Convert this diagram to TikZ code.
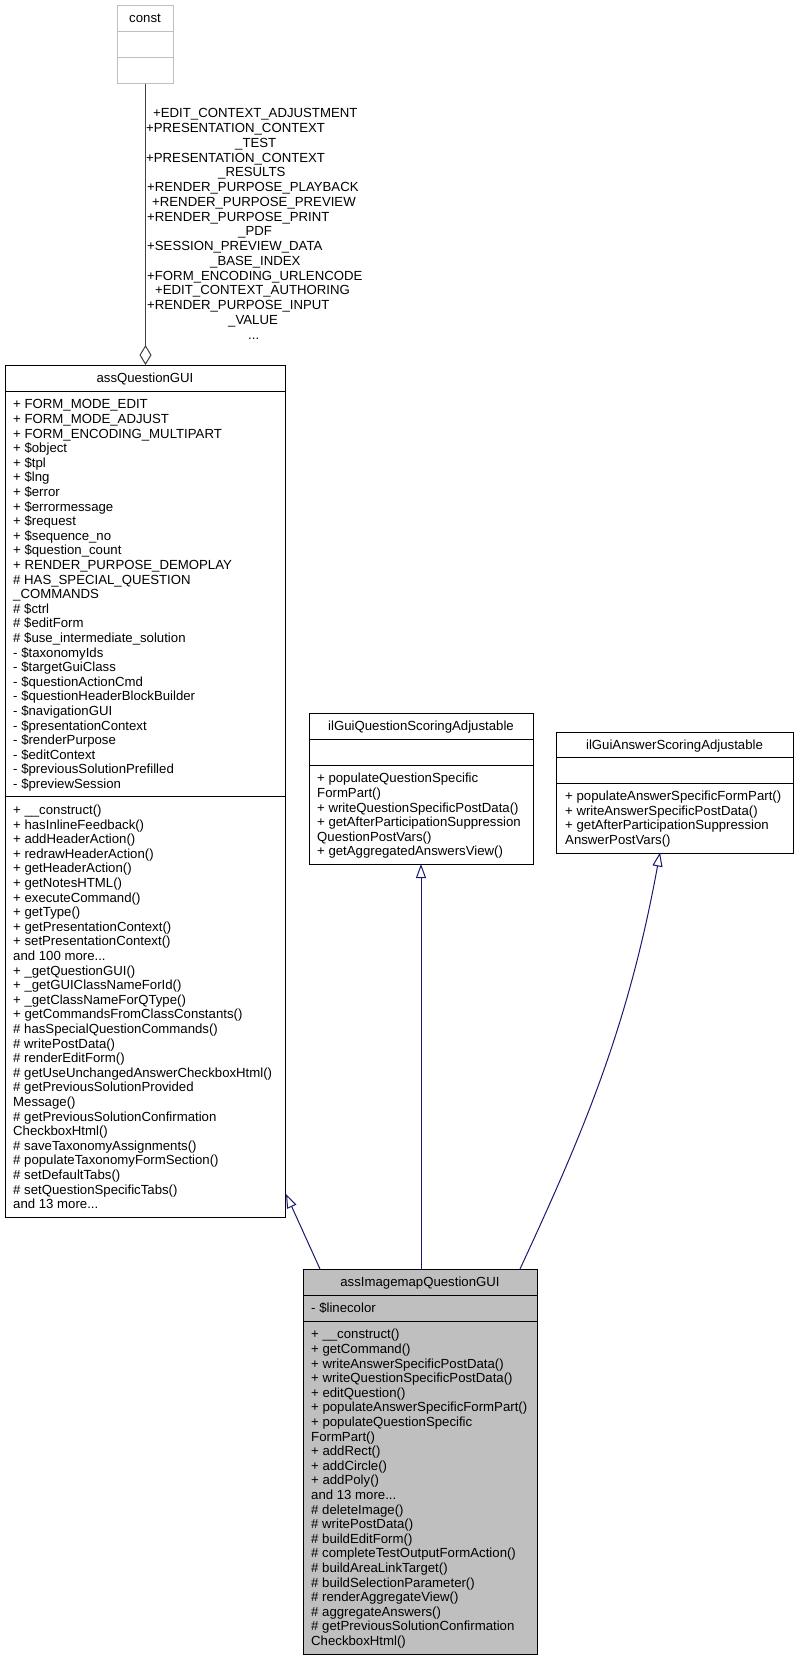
\documentclass[tikz,border=0pt]{standalone}
\usepackage{fontspec}
\setmainfont{Liberation Sans}
\usetikzlibrary{arrows.meta}
\definecolor{edgeblue}{HTML}{191970}
\definecolor{boxgray}{HTML}{BFBFBF}
\definecolor{constgray}{HTML}{404040}
\newcommand\dfont{\fontsize{13.2}{14.6}\selectfont}
\newcommand\tdots{...}
\begin{document}
\begin{tikzpicture}[x=1pt,y=-1pt,
  txt/.style={font=\dfont, inner sep=0pt, anchor=base west},
  ttl/.style={font=\dfont, inner sep=0pt, anchor=base},
  cbox/.style={draw=black, line width=1pt, inner sep=0pt, anchor=north west},
  sep/.style={draw=black, line width=1pt},
  inh/.style={draw=edgeblue, line width=1pt, -{Triangle[length=14pt,width=10pt,fill=white]}},
  agg/.style={draw=constgray, line width=1pt, -{Diamond[length=20pt,width=12pt,fill=white]}}]
\useasboundingbox[fill=white] (0,0) rectangle (798,1660);

% ---------- const ----------
\node[cbox, draw=boxgray, minimum width=56pt, minimum height=78pt] (const) at (117,5) {};
\draw[sep, draw=boxgray] (117,31) -- (173,31);
\draw[sep, draw=boxgray] (117,57) -- (173,57);
\node[ttl] (constT) at (145,22.8) {const};

% ---------- assQuestionGUI ----------
\node[cbox, minimum width=280pt, minimum height=851.8pt] (assq) at (5,365) {};
\draw[sep] (5,391) -- (285,391);
\draw[sep] (5,796.6) -- (285,796.6);
\node[ttl] (assqT) at (145,382.8) {assQuestionGUI};
\foreach \t [count=\i from 0] in {
+ FORM\_MODE\_EDIT,
+ FORM\_MODE\_ADJUST,
+ FORM\_ENCODING\_MULTIPART,
+ \$object,
+ \$tpl,
+ \$lng,
+ \$error,
+ \$errormessage,
+ \$request,
+ \$sequence\_no,
+ \$question\_count,
+ RENDER\_PURPOSE\_DEMOPLAY,
\# HAS\_SPECIAL\_QUESTION,
\_COMMANDS,
\# \$ctrl,
\# \$editForm,
\# \$use\_intermediate\_solution,
- \$taxonomyIds,
- \$targetGuiClass,
- \$questionActionCmd,
- \$questionHeaderBlockBuilder,
- \$navigationGUI,
- \$presentationContext,
- \$renderPurpose,
- \$editContext,
- \$previousSolutionPrefilled,
- \$previewSession}
  \node[txt] (assqA\i) at (13, 408.8+14.6*\i) {\t};
\foreach \t [count=\i from 0] in {
+ \_\_construct(),
+ hasInlineFeedback(),
+ addHeaderAction(),
+ redrawHeaderAction(),
+ getHeaderAction(),
+ getNotesHTML(),
+ executeCommand(),
+ getType(),
+ getPresentationContext(),
+ setPresentationContext(),
and 100 more\tdots,
+ \_getQuestionGUI(),
+ \_getGUIClassNameForId(),
+ \_getClassNameForQType(),
+ getCommandsFromClassConstants(),
\# hasSpecialQuestionCommands(),
\# writePostData(),
\# renderEditForm(),
\# getUseUnchangedAnswerCheckboxHtml(),
\# getPreviousSolutionProvided,
Message(),
\# getPreviousSolutionConfirmation,
CheckboxHtml(),
\# saveTaxonomyAssignments(),
\# populateTaxonomyFormSection(),
\# setDefaultTabs(),
\# setQuestionSpecificTabs(),
and 13 more\tdots}
  \node[txt] (assqM\i) at (13, 814.4+14.6*\i) {\t};

% ---------- ilGuiQuestionScoringAdjustable ----------
\node[cbox, minimum width=224pt, minimum height=151pt] (ilq) at (309,713) {};
\draw[sep] (309,739) -- (533,739);
\draw[sep] (309,765) -- (533,765);
\node[ttl] (ilqT) at (421,730.8) {ilGuiQuestionScoringAdjustable};
\foreach \t [count=\i from 0] in {
+ populateQuestionSpecific,
FormPart(),
+ writeQuestionSpecificPostData(),
+ getAfterParticipationSuppression,
QuestionPostVars(),
+ getAggregatedAnswersView()}
  \node[txt] (ilqM\i) at (317, 782.8+14.6*\i) {\t};

% ---------- ilGuiAnswerScoringAdjustable ----------
\node[cbox, minimum width=237pt, minimum height=120.5pt] (ila) at (556,732) {};
\draw[sep] (556,757.5) -- (793,757.5);
\draw[sep] (556,783) -- (793,783);
\node[ttl] (ilaT) at (674.5,749.5) {ilGuiAnswerScoringAdjustable};
\foreach \t [count=\i from 0] in {
+ populateAnswerSpecificFormPart(),
+ writeAnswerSpecificPostData(),
+ getAfterParticipationSuppression,
AnswerPostVars()}
  \node[txt] (ilaM\i) at (565, 800.6+14.6*\i) {\t};

% ---------- assImagemapQuestionGUI ----------
\node[cbox, fill=boxgray, minimum width=234pt, minimum height=384.6pt] (aimg) at (303,1269) {};
\draw[sep] (303,1295) -- (537,1295);
\draw[sep] (303,1321) -- (537,1321);
\node[ttl] (aimgT) at (420,1286.8) {assImagemapQuestionGUI};
\node[txt] (aimgA0) at (311,1312.8) {- \$linecolor};
\foreach \t [count=\i from 0] in {
+ \_\_construct(),
+ getCommand(),
+ writeAnswerSpecificPostData(),
+ writeQuestionSpecificPostData(),
+ editQuestion(),
+ populateAnswerSpecificFormPart(),
+ populateQuestionSpecific,
FormPart(),
+ addRect(),
+ addCircle(),
+ addPoly(),
and 13 more\tdots,
\# deleteImage(),
\# writePostData(),
\# buildEditForm(),
\# completeTestOutputFormAction(),
\# buildAreaLinkTarget(),
\# buildSelectionParameter(),
\# renderAggregateView(),
\# aggregateAnswers(),
\# getPreviousSolutionConfirmation,
CheckboxHtml()}
  \node[txt] (aimgM\i) at (311, 1338.8+14.6*\i) {\t};

% ---------- connectors ----------
\draw[agg] (const.south) -- (assq.north);
\coordinate (e1s) at (320,1269);
\coordinate (e1t) at (286,1194);
\draw[inh] (e1s) -- (e1t);
\coordinate (e2s) at (421,1269);
\coordinate (e2t) at (421,864);
\draw[inh] (e2s) -- (e2t);
\coordinate (e3s) at (520,1269);
\coordinate (e3t) at (660,852.5);
\draw[inh] (e3s) .. controls (583,1133) and (628,1028) .. (e3t);

% ---------- edge label ----------
\node[txt] (lab0) at (153,117.8) {+EDIT\_CONTEXT\_ADJUSTMENT};
\node[txt] (lab1) at (146,132.55) {+PRESENTATION\_CONTEXT};
\node[txt] (lab2) at (235,147.3) {\_TEST};
\node[txt] (lab3) at (146,162.05) {+PRESENTATION\_CONTEXT};
\node[txt] (lab4) at (218,176.8) {\_RESULTS};
\node[txt] (lab5) at (147,191.55) {+RENDER\_PURPOSE\_PLAYBACK};
\node[txt] (lab6) at (152,206.3) {+RENDER\_PURPOSE\_PREVIEW};
\node[txt] (lab7) at (147,221.05) {+RENDER\_PURPOSE\_PRINT};
\node[txt] (lab8) at (238,235.8) {\_PDF};
\node[txt] (lab9) at (147,250.55) {+SESSION\_PREVIEW\_DATA};
\node[txt] (lab10) at (210,265.3) {\_BASE\_INDEX};
\node[txt] (lab11) at (147,280.05) {+FORM\_ENCODING\_URLENCODE};
\node[txt] (lab12) at (155,294.8) {+EDIT\_CONTEXT\_AUTHORING};
\node[txt] (lab13) at (147,309.55) {+RENDER\_PURPOSE\_INPUT};
\node[txt] (lab14) at (228,324.3) {\_VALUE};
\node[txt] (lab15) at (248,339.05) {...};
\end{tikzpicture}
\end{document}
